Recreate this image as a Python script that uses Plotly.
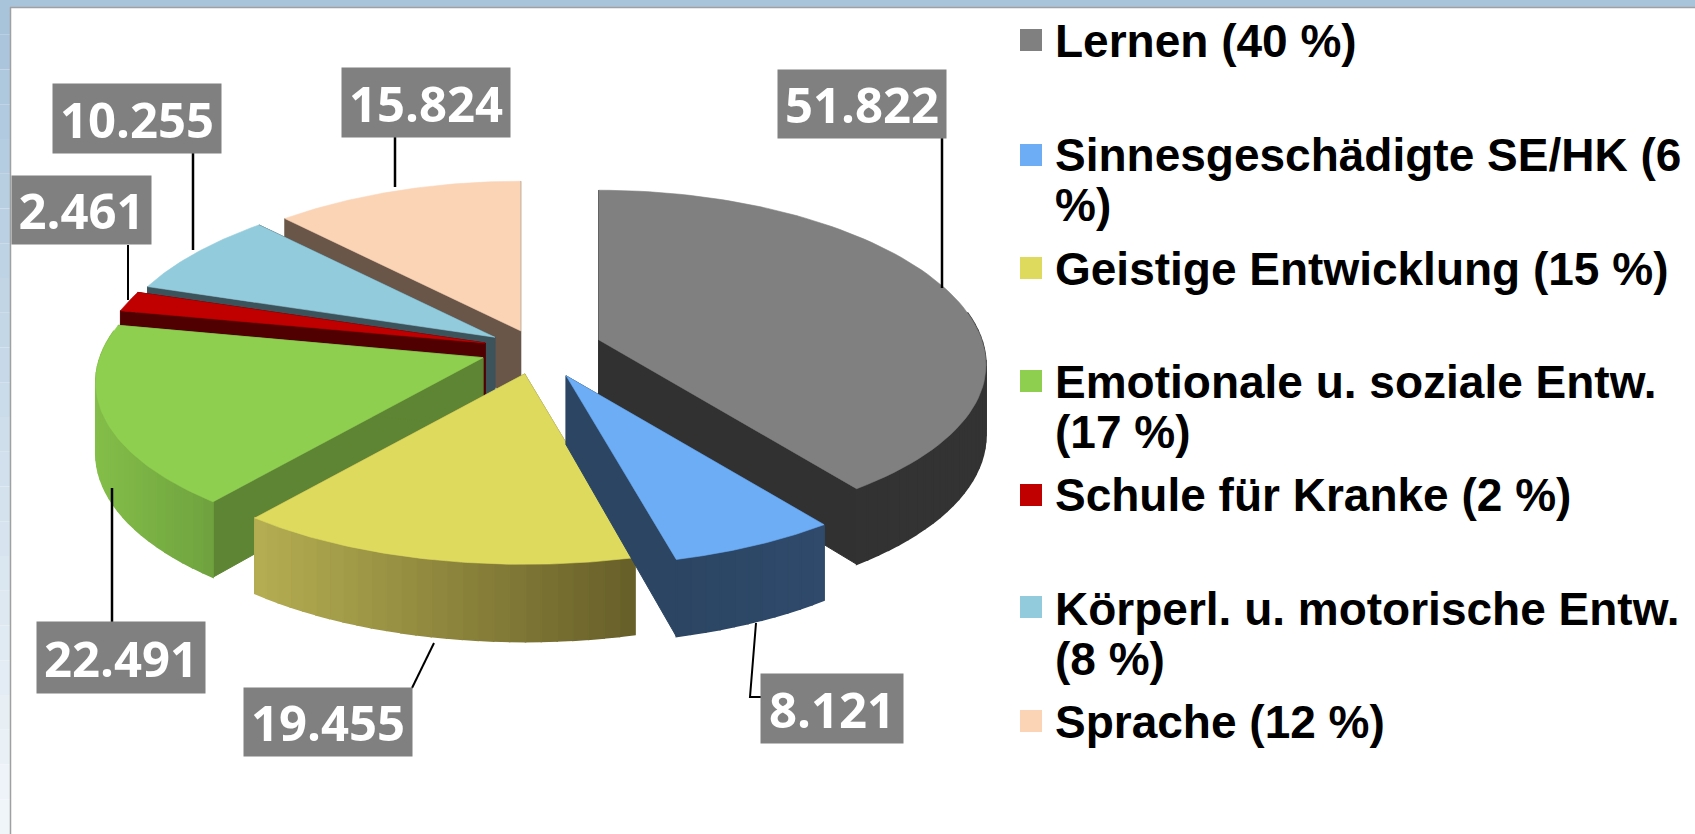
import math
import plotly.graph_objects as go

# ---- data ----
CATEGORIES = ["Lernen", "Sinnesgeschädigte SE/HK", "Geistige Entwicklung",
              "Emotionale u. soziale Entw.", "Schule für Kranke",
              "Körperl. u. motorische Entw.", "Sprache"]
VALUES = [51822, 8121, 19455, 22491, 2461, 10255, 15824]
VALUE_LABELS = ["51.822", "8.121", "19.455", "22.491", "2.461", "10.255", "15.824"]
LEGEND_LINES = [["Lernen (40 %)"],
                ["Sinnesgeschädigte SE/HK (6", "%)"],
                ["Geistige Entwicklung (15 %)"],
                ["Emotionale u. soziale Entw.", "(17 %)"],
                ["Schule für Kranke (2 %)"],
                ["Körperl. u. motorische Entw.", "(8 %)"],
                ["Sprache (12 %)"]]

# ---- styles ----
PULL = [0.17, 0.175, 0.15, 0.15, 0.14, 0.13, 0.115]
TOP = ["#808080", "#6CADF5", "#DEDA5E", "#8FCF50", "#C00000", "#92CBDC", "#FBD3B5"]
CUT = ["#313131", "#2B4563", "#8a8440", "#5E8533", "#500000", "#3D535C", "#695648"]
WALL_L = ["#313131", "#2B4563", "#B5AE52", "#84BE49", "#500000", "#3D535C", "#695648"]
WALL_R = ["#333333", "#2F4A6B", "#665E28", "#6FA23F", "#500000", "#3D535C", "#695648"]
DRAW_ORDER = [6, 5, 4, 3, 0, 2, 1]
CX, CY, RX, RY, PERSP_X, PERSP_Y, DEPTH = 537, 349, 383, 170, 0.15, 0.12, 69

BOXES = {0: (778, 946, 70, 138), 1: (761, 903, 674, 743), 2: (244, 412, 688, 756),
         3: (37, 205, 622, 693), 4: (12, 151, 176, 244), 5: (53, 221, 84, 153),
         6: (342, 510, 68, 137)}
LEADERS = {0: [(942, 138), (942, 288)], 1: [(756, 623), (750, 697), (761, 697)],
           2: [(434, 643), (412, 688)], 3: [(112, 488), (112, 622)],
           4: [(128, 245), (128, 300)], 5: [(193, 153), (193, 250)],
           6: [(395, 137), (395, 187)]}
LEGEND_Y = [[41], [155, 205], [269], [382, 432], [495], [609, 659], [722]]
SWATCH_Y = [40, 155, 268, 381, 495, 607, 721]


def hex2rgb(c):
    return tuple(int(c[i:i + 2], 16) for i in (1, 3, 5))


def mix(a, b, t):
    ra, rb = hex2rgb(a), hex2rgb(b)
    return "rgb(%d,%d,%d)" % tuple(round(x + (y - x) * t) for x, y in zip(ra, rb))


total = sum(VALUES)
angles = [0]
for v in VALUES:
    angles.append(angles[-1] + 360 * v / total)


def project(theta_deg, r, ax, ay, drop=0.0):
    t = math.radians(theta_deg)
    u, v = r * math.sin(t), -r * math.cos(t)
    sx, sy = 1 + PERSP_X * v, 1 + PERSP_Y * v
    return ax + RX * u * sx, ay + RY * v * sy + drop * DEPTH * sy


fig = go.Figure()


def poly(pts, color, lw=1.0):
    xs = [p[0] for p in pts] + [pts[0][0]]
    ys = [p[1] for p in pts] + [pts[0][1]]
    fig.add_trace(go.Scatter(x=xs, y=ys, mode="lines", fill="toself", fillcolor=color,
                             line=dict(color=color, width=lw), hoverinfo="skip",
                             showlegend=False))


for i in DRAW_ORDER:
    a0, a1 = angles[i], angles[i + 1]
    mid = math.radians((a0 + a1) / 2)
    ax = CX + PULL[i] * RX * math.sin(mid)
    ay = CY - PULL[i] * RY * math.cos(mid)
    apex, apex_low = (ax, ay), (ax, ay + DEPTH)
    # cut faces
    for a in (a0, a1):
        poly([apex, project(a, 1, ax, ay), project(a, 1, ax, ay, 1), apex_low], CUT[i])
    # outer wall, shaded along the screen x
    n = max(4, int((a1 - a0) / 2))
    steps = [a0 + (a1 - a0) * k / n for k in range(n + 1)]
    xs = [project(a, 1, ax, ay)[0] for a in steps]
    for k in range(n):
        if -math.cos(math.radians((steps[k] + steps[k + 1]) / 2)) < -0.15:
            continue
        t = ((xs[k] + xs[k + 1]) / 2 - min(xs)) / max(1, max(xs) - min(xs))
        poly([project(steps[k], 1, ax, ay), project(steps[k + 1], 1, ax, ay),
              project(steps[k + 1], 1, ax, ay, 1), project(steps[k], 1, ax, ay, 1)],
             mix(WALL_L[i], WALL_R[i], t), lw=1.6)
    # top face
    top_pts = [apex] + [project(a0 + (a1 - a0) * k / 80, 1, ax, ay) for k in range(81)]
    poly(top_pts, TOP[i], lw=0.6)

# leader lines
for i, pts in LEADERS.items():
    fig.add_trace(go.Scatter(x=[p[0] for p in pts], y=[p[1] for p in pts], mode="lines",
                             line=dict(color="black", width=2.5 if i in (0, 3, 5, 6) else 2),
                             hoverinfo="skip", showlegend=False))

# legend swatches
fig.add_trace(go.Scatter(x=[1031] * len(CATEGORIES), y=SWATCH_Y, mode="markers",
                         marker=dict(symbol="square", size=22, color=TOP, line=dict(width=0)),
                         text=CATEGORIES, hoverinfo="text", showlegend=False))

annotations = []
for i, label in enumerate(VALUE_LABELS):
    x0, x1, y0, y1 = BOXES[i]
    annotations.append(dict(x=(x0 + x1) / 2, y=(y0 + y1) / 2, xref="x", yref="y",
                            text="<b>%s</b>" % label, showarrow=False,
                            width=x1 - x0, height=y1 - y0, bgcolor="#808080", borderpad=0,
                            font=dict(family="Open Sans", size=49, color="white")))
for lines, ys in zip(LEGEND_LINES, LEGEND_Y):
    for line, y in zip(lines, ys):
        annotations.append(dict(x=1053, y=y, xref="x", yref="y", xanchor="left", yanchor="middle",
                                text="<b>%s</b>" % line, showarrow=False,
                                font=dict(family="Liberation Sans", size=46, color="black")))

# window frame
shapes = [dict(type="rect", xref="x", yref="y", x0=0, x1=1695, y0=0, y1=7,
               fillcolor="#A8C4DB", line_width=0, layer="below")]
BAND_TOP, BAND_BOTTOM = "#A8C4DB", "#F0F5F9"
for k in range(24):
    y0, y1 = 834 * k / 24, 834 * (k + 1) / 24
    shapes.append(dict(type="rect", xref="x", yref="y", x0=0, x1=10, y0=y0, y1=y1,
                       fillcolor=mix(BAND_TOP, BAND_BOTTOM, k / 23), line_width=0, layer="below"))
shapes += [dict(type="line", xref="x", yref="y", x0=10, x1=1695, y0=7.5, y1=7.5,
                line=dict(color="#A0A0A0", width=1.5), layer="below"),
           dict(type="line", xref="x", yref="y", x0=10.5, x1=10.5, y0=7, y1=834,
                line=dict(color="#A0A0A0", width=1.5), layer="below")]

fig.update_layout(width=1695, height=834, margin=dict(l=0, r=0, t=0, b=0),
                  paper_bgcolor="white", plot_bgcolor="white",
                  xaxis=dict(range=[0, 1695], visible=False, fixedrange=True),
                  yaxis=dict(range=[834, 0], visible=False, fixedrange=True),
                  annotations=annotations, shapes=shapes, showlegend=False)

fig.write_html("out.html", config={"displayModeBar": False},
               post_script="document.body.style.margin='0';document.body.style.overflow='hidden';")
